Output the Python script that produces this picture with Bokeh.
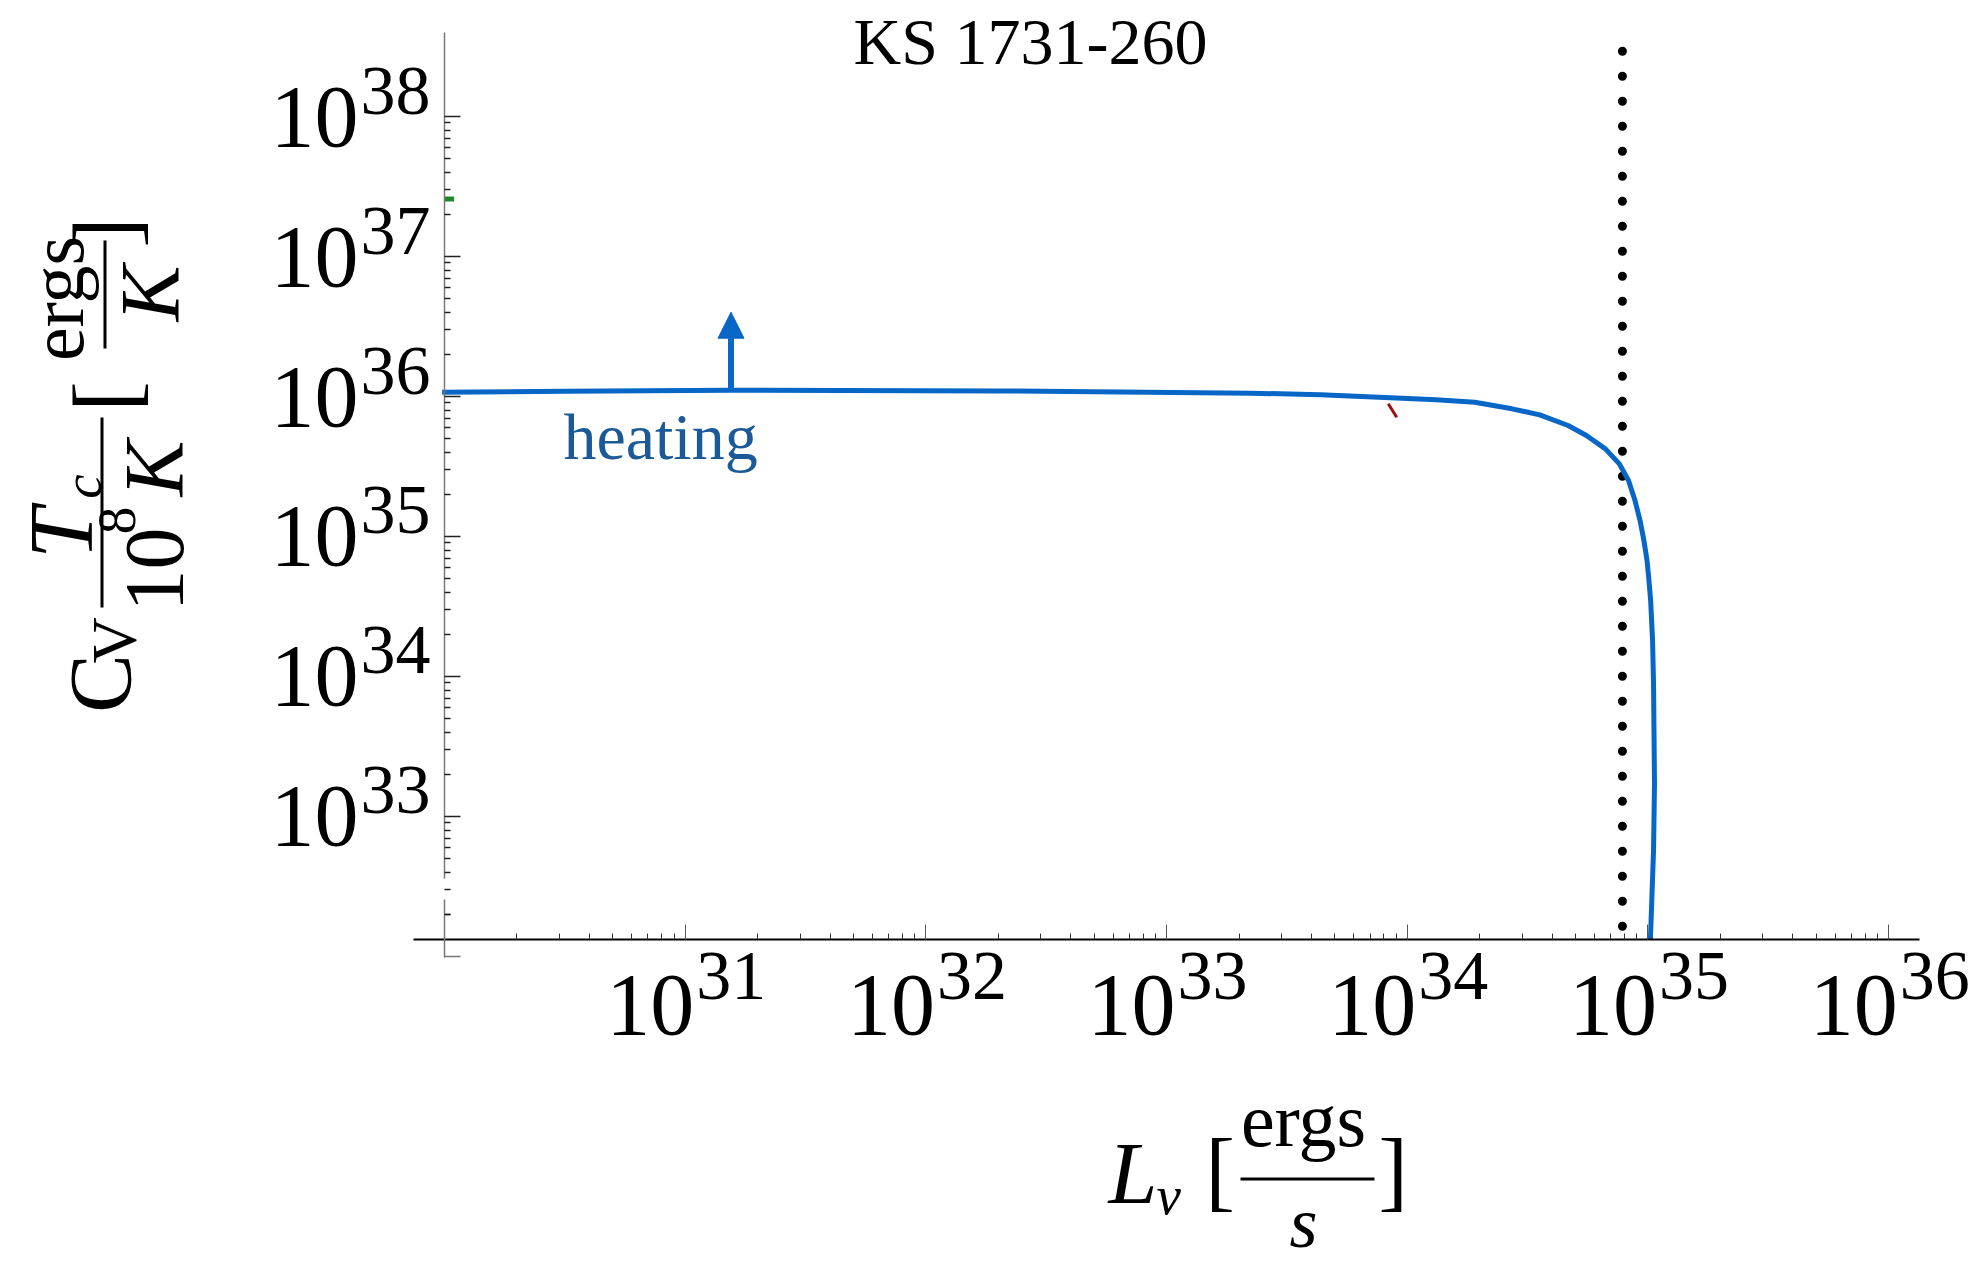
from bokeh.plotting import figure
from bokeh.models import (Range1d, FixedTicker, Label, LabelSet, Arrow, NormalHead,
                          BoxAnnotation, ColumnDataSource, LogAxis)
from bokeh.embed import file_html
from bokeh.resources import INLINE

# ---------------- data (log10 values) ----------------
heating_logL = [29.99, 30.5, 31.19, 32.3, 33.35, 33.64, 33.93, 34.12, 34.28, 34.435,
                34.55, 34.668, 34.744, 34.823, 34.881, 34.919, 34.946, 34.967, 34.983,
                34.996, 35.004, 35.011, 35.019, 35.023, 35.027, 35.023, 35.010]
heating_logC = [36.03, 36.038, 36.045, 36.04, 36.024, 36.012, 35.991, 35.976, 35.959, 35.912,
                35.869, 35.793, 35.721, 35.626, 35.519, 35.40, 35.257, 35.114, 34.971,
                34.829, 34.686, 34.543, 34.257, 33.95, 33.236, 32.757, 32.121]

# faint curve visible beside the blue one in the bend
inner_logL = [34.55, 34.70, 34.82, 34.89, 34.935, 34.962, 34.985]
inner_logC = [35.88, 35.77, 35.63, 35.49, 35.33, 35.15, 34.90]

# small red fragment of another curve
red_logL = [33.921, 33.956]
red_logC = [35.948, 35.852]

# small green mark at the left edge
green_logL = [30.0, 30.04]
green_logC = [37.41, 37.41]

# vertical dotted reference luminosity
ref_L = 7.83e34
ref_logC = [38.466, 32.121]

# heating arrow
arrow_L = 1.55e31
arrow_logC = [36.045, 36.602]

x_ticks = [1e31, 1e32, 1e33, 1e34, 1e35, 1e36]
x_tick_exp = ["31", "32", "33", "34", "35", "36"]
y_ticks = [1e33, 1e34, 1e35, 1e36, 1e37, 1e38]
y_tick_exp = ["33", "34", "35", "36", "37", "38"]
x_minor = [m * 10.0 ** k for k in range(30, 36) for m in range(2, 10)]
y_minor = [m * 10.0 ** k for k in range(32, 38) for m in range(2, 10)]

title_text = "KS 1731-260"
heating_text = "heating"

# ---------------- figure (frame covers the page; axes sit at fixed locations) ----------------
W, H = 1982, 1263
p = figure(width=W, height=H,
           x_axis_type="log", y_axis_type="log",
           x_range=Range1d(10 ** 28.1554, 10 ** 36.3897),
           y_range=Range1d(10 ** 29.8071, 10 ** 38.8286),
           output_backend="svg", toolbar_location=None)
p.min_border = 0
p.min_border_left = p.min_border_right = p.min_border_top = p.min_border_bottom = 0
p.outline_line_color = None
p.grid.visible = False
p.background_fill_color = "white"
p.border_fill_color = "white"

FONT = "Liberation Serif"
X0, Y0 = 1e30, 10 ** 32.121

xa = p.xaxis[0]
xa.fixed_location = Y0
xa.bounds = (10 ** 29.871, 10 ** 36.128)
xa.ticker = FixedTicker(ticks=x_ticks, minor_ticks=x_minor)
xa.major_label_overrides = {t: "" for t in x_ticks}
xa.axis_line_color = "black"
xa.axis_line_width = 2
xa.major_tick_in = 15
xa.major_tick_out = 0
xa.minor_tick_in = 6
xa.minor_tick_out = 0
xa.major_tick_line_color = "#555555"
xa.minor_tick_line_color = "#333333"

ya = p.yaxis[0]
ya.fixed_location = X0
ya.bounds = (10 ** 32.56, 10 ** 38.6)
ya.ticker = FixedTicker(ticks=y_ticks, minor_ticks=y_minor)
ya.major_label_overrides = {t: "" for t in y_ticks}
ya.axis_line_color = "#777777"
ya.axis_line_width = 1.5
ya.major_tick_in = 16
ya.major_tick_out = 0
ya.minor_tick_in = 6
ya.minor_tick_out = 0
ya.major_tick_line_color = "#222222"
ya.minor_tick_line_color = "#222222"
ya.major_tick_line_width = 1.5
ya.minor_tick_line_width = 1.5

# lower piece of the broken y axis
ya2 = LogAxis(fixed_location=X0, bounds=(10 ** 31.99, 10 ** 32.41),
              ticker=FixedTicker(ticks=[1e32], minor_ticks=[2e32]),
              major_label_overrides={1e32: ""}, axis_line_color="#777777", axis_line_width=1.5,
              major_tick_in=16, major_tick_out=0, minor_tick_in=6, minor_tick_out=0,
              major_tick_line_color="#777777", minor_tick_line_color="#222222",
              major_tick_line_width=1.5, minor_tick_line_width=1.5)
p.add_layout(ya2, "left")

# tick labels: "10" with a raised exponent
xsrc = ColumnDataSource(dict(x=x_ticks, e=x_tick_exp, b=["10"] * len(x_ticks)))
ysrc = ColumnDataSource(dict(y=y_ticks, e=y_tick_exp, b=["10"] * len(y_ticks),
                             xb=[358] * len(y_ticks), xe=[360] * len(y_ticks)))
p.add_layout(LabelSet(x="x", y=H - 1004, y_units="screen", text="b", source=xsrc,
                      x_offset=9, text_align="right", text_baseline="middle",
                      text_font=FONT, text_font_size="88px", text_color="black"))
p.add_layout(LabelSet(x="x", y=H - 975, y_units="screen", text="e", source=xsrc,
                      x_offset=11, text_align="left", text_baseline="middle",
                      text_font=FONT, text_font_size="70px", text_color="black"))
p.add_layout(LabelSet(x="xb", x_units="screen", y="y", text="b", source=ysrc,
                      text_align="right", text_baseline="middle",
                      text_font=FONT, text_font_size="88px", text_color="black"))
p.add_layout(LabelSet(x="xe", x_units="screen", y="y", text="e", source=ysrc,
                      y_offset=26, text_align="left", text_baseline="middle",
                      text_font=FONT, text_font_size="70px", text_color="black"))

# ---------------- glyphs ----------------
def pw(v):
    return [10 ** a for a in v]

p.line([ref_L, ref_L], pw(ref_logC), line_color="black", line_width=9,
       line_dash="0 25", line_cap="round")
p.line(pw(green_logL), pw(green_logC), line_color="#1a8a2a", line_width=5)
p.line(pw(inner_logL), pw(inner_logC), line_color="#5a4aa0", line_width=1.5)
p.line(pw(heating_logL), pw(heating_logC), line_color="#0866c6", line_width=5,
       line_join="round")
p.line(pw(red_logL), pw(red_logC), line_color="#9a1010", line_width=3)

p.add_layout(Arrow(x_start=arrow_L, y_start=10 ** arrow_logC[0],
                   x_end=arrow_L, y_end=10 ** arrow_logC[1],
                   line_color="#0866c6", line_width=6,
                   end=NormalHead(size=26, fill_color="#0866c6", line_color="#0866c6", line_width=1)))

p.add_layout(Label(x=10 ** 30.494, y=10 ** 35.714, text=heating_text, text_font=FONT,
                   text_font_size="66px", text_color="#1b5a96",
                   text_align="left", text_baseline="middle"))


# ---------------- titles built from text pieces (page pixel positions) ----------------
def lab(text, cx, cy, size, italic=False, angle=0, align="center"):
    p.add_layout(Label(x=cx, y=H - cy, x_units="screen", y_units="screen",
                       text=text, text_font=FONT, text_font_size=f"{size}px",
                       text_font_style="italic" if italic else "normal",
                       angle=angle, angle_units="deg", text_align=align,
                       text_baseline="middle", text_color="black"))


def bar(x0, x1, y0, y1):
    p.add_layout(BoxAnnotation(left=x0, right=x1, bottom=H - y1, top=H - y0,
                               left_units="screen", right_units="screen",
                               bottom_units="screen", top_units="screen",
                               fill_color="black", fill_alpha=1.0, line_color=None))


lab(title_text, 1030, 41, 66)

# x-axis title: L_nu [ergs / s]
lab("L", 1108, 1173, 88, italic=True, align="left")
lab("ν", 1156, 1195, 55, italic=True, align="left")
lab("[", 1205, 1170, 88, align="left")
lab("ergs", 1303, 1119, 76)
bar(1240, 1374, 1177, 1180)
lab("s", 1303, 1222, 72, italic=True)
lab("]", 1378, 1170, 88, align="left")

# y-axis title (rotated): C_V T_c/(10^8 K) [ergs/K]
lab("C", 100, 683, 88, angle=90)
lab("V", 114, 640, 64, angle=90)
bar(100, 103, 417, 607)
lab("T", 60, 533, 92, italic=True, angle=90)
lab("c", 82, 486, 55, italic=True, angle=90)
lab("10", 154, 569, 84, angle=90)
lab("8", 116, 520, 55, angle=90)
lab("K", 154, 468, 84, italic=True, angle=90)
lab("[", 104, 396, 92, angle=90)
lab("ergs", 56, 298, 76, angle=90)
bar(103, 106, 240, 348)
lab("K", 150, 293, 84, italic=True, angle=90)
lab("]", 104, 232, 92, angle=90)

open("out.html", "w").write(file_html(p, INLINE))
